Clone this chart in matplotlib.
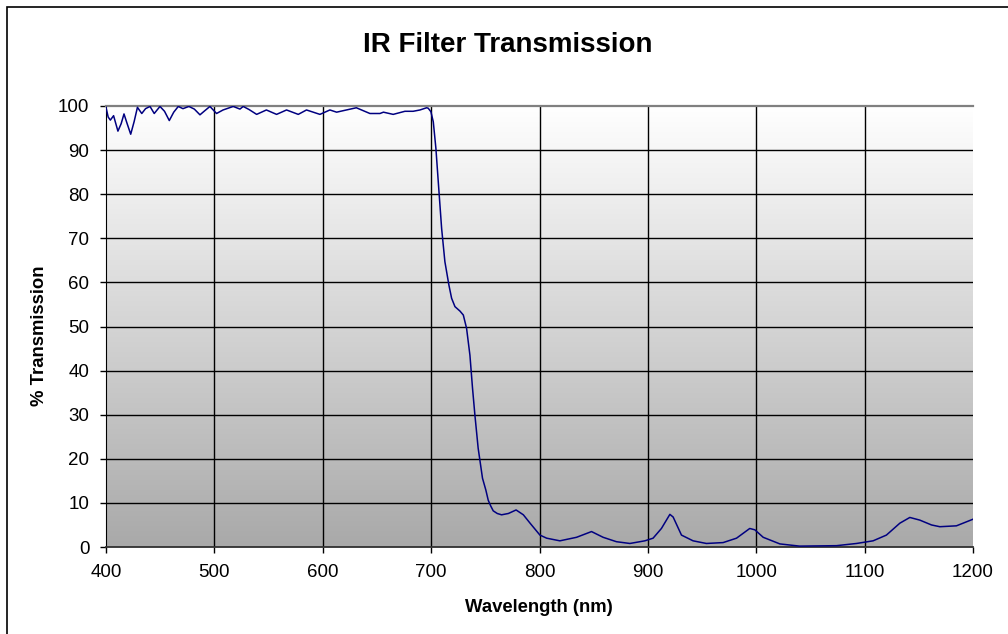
import numpy as np
import matplotlib
matplotlib.use("Agg")
import matplotlib.pyplot as plt
from matplotlib.patches import Rectangle

# Data
wavelength_nm = [
    400, 402, 404, 407, 411, 414, 416.6, 419.5, 422.8, 426, 429, 433, 436.5, 440.6, 444.5,
    449.8, 454, 458.4, 462.5, 466.7, 471, 476.5, 481.5, 486.7, 491, 495.9, 502, 508,
    517.4, 523.6, 526.6, 532, 539, 548, 557.4, 566.6, 577.4, 585, 597.4, 606.6, 612.8,
    620, 631, 643.5, 652.8, 656, 665, 675.8, 683.4, 689.7, 695.8, 697.3, 699.8, 702,
    704.4, 706.6, 709.7, 712.7, 716.4, 718.9, 722, 726.6, 729.7, 732.7, 735.8, 738.2,
    740.4, 743.4, 747.4, 750.5, 752.7, 755, 757.3, 761, 765, 771.3, 778.4, 785.1,
    791.3, 800.4, 806.6, 818.8, 834.2, 848, 858.7, 871, 883.4, 897.2, 904.8, 912.5,
    920.3, 923.3, 931, 941.7, 954, 969.4, 981.8, 994, 998.7, 1006.4, 1021.8, 1040,
    1074, 1092.5, 1107.8, 1120.1, 1132.5, 1141.7, 1150.9, 1161.7, 1169.4, 1184.7, 1200,
]
transmission_pct = [
    99.7, 97.5, 96.8, 97.8, 94.3, 96.0, 98.2, 96.0, 93.6, 96.5, 99.7, 98.3, 99.4, 99.9, 98.3,
    99.9, 98.8, 96.7, 98.6, 99.9, 99.4, 99.9, 99.3, 98.0, 98.9, 99.9, 98.3, 99.1,
    99.9, 99.3, 99.9, 99.2, 98.1, 99.1, 98.1, 99.1, 98.1, 99.1, 98.1, 99.1, 98.6,
    99.0, 99.6, 98.3, 98.3, 98.6, 98.1, 98.8, 98.8, 99.1, 99.6, 99.5, 98.7, 96.4,
    90.4, 82.8, 72.2, 64.7, 59.4, 56.4, 54.5, 53.5, 52.6, 49.6, 43.5, 36.0,
    29.9, 22.4, 15.6, 12.9, 10.6, 9.3, 8.2, 7.6, 7.3, 7.6, 8.4, 7.3,
    5.4, 2.7, 2.0, 1.4, 2.2, 3.5, 2.2, 1.2, 0.8, 1.4, 2.0, 4.2,
    7.4, 6.8, 2.7, 1.4, 0.8, 1.0, 2.0, 4.2, 3.9, 2.2, 0.7, 0.2,
    0.3, 0.8, 1.4, 2.7, 5.4, 6.7, 6.1, 5.0, 4.6, 4.8, 6.3,
]
x_ticks = [400, 500, 600, 700, 800, 900, 1000, 1100, 1200]
y_ticks = [0, 10, 20, 30, 40, 50, 60, 70, 80, 90, 100]

W, H = 1008, 634
fig = plt.figure(figsize=(W / 100, H / 100), dpi=100)
plt.rcParams['font.family'] = ['Liberation Sans', 'DejaVu Sans']

left, right, top, bottom = 106, 973, 106, 547
ax = fig.add_axes([left / W, 1 - bottom / H, (right - left) / W, (bottom - top) / H])

# Gradient background (white at top to gray at bottom)
grad = np.linspace(1.0, 0.0, 256).reshape(-1, 1)
top_c = np.array([1.0, 1.0, 1.0])
bot_c = np.array([0.663, 0.663, 0.663])
img = grad[..., None] * top_c + (1 - grad[..., None]) * bot_c
ax.imshow(img, extent=[400, 1200, 0, 100], aspect='auto', origin='upper', zorder=0,
          interpolation='bilinear')

ax.set_xlim(400, 1200)
ax.set_ylim(0, 100)
ax.set_xticks(x_ticks)
ax.set_yticks(y_ticks)

# Gridlines (black), excluding the frame positions
for yv in y_ticks[1:-1]:
    ax.axhline(yv, color='black', linewidth=1.0, zorder=1)
for xv in x_ticks[1:-1]:
    ax.axvline(xv, color='black', linewidth=1.0, zorder=1)

ax.plot(wavelength_nm, transmission_pct, color='#000080', linewidth=1.1, zorder=3,
        solid_joinstyle='round')

ax.spines['right'].set_visible(False)
ax.spines['top'].set_color('#808080')
ax.spines['top'].set_linewidth(1.6)
ax.spines['left'].set_color('black')
ax.spines['bottom'].set_color('#303030')
ax.spines['bottom'].set_linewidth(1.3)

ax.tick_params(axis='both', direction='out', length=4.5, width=1, labelsize=13.5,
               colors='black')
ax.tick_params(axis='y', pad=7.5)
ax.tick_params(axis='x', pad=8)

fig.text(508 / W, 1 - 45 / H, 'IR Filter Transmission', ha='center', va='center',
         fontsize=20, fontweight='bold')
fig.text(539 / W, 1 - 607 / H, 'Wavelength (nm)', ha='center', va='center',
         fontsize=13.3, fontweight='bold')
fig.text(40 / W, 1 - 336 / H, '% Transmission', ha='center', va='center',
         fontsize=13.3, fontweight='bold', rotation=90)

# Figure border
fig.patches.append(Rectangle((7 / W, -0.1), 1.2, 1 - 7 / H + 0.1, transform=fig.transFigure,
                             fill=False, edgecolor='black', linewidth=1.2))

fig.savefig('out.png', dpi=100)
